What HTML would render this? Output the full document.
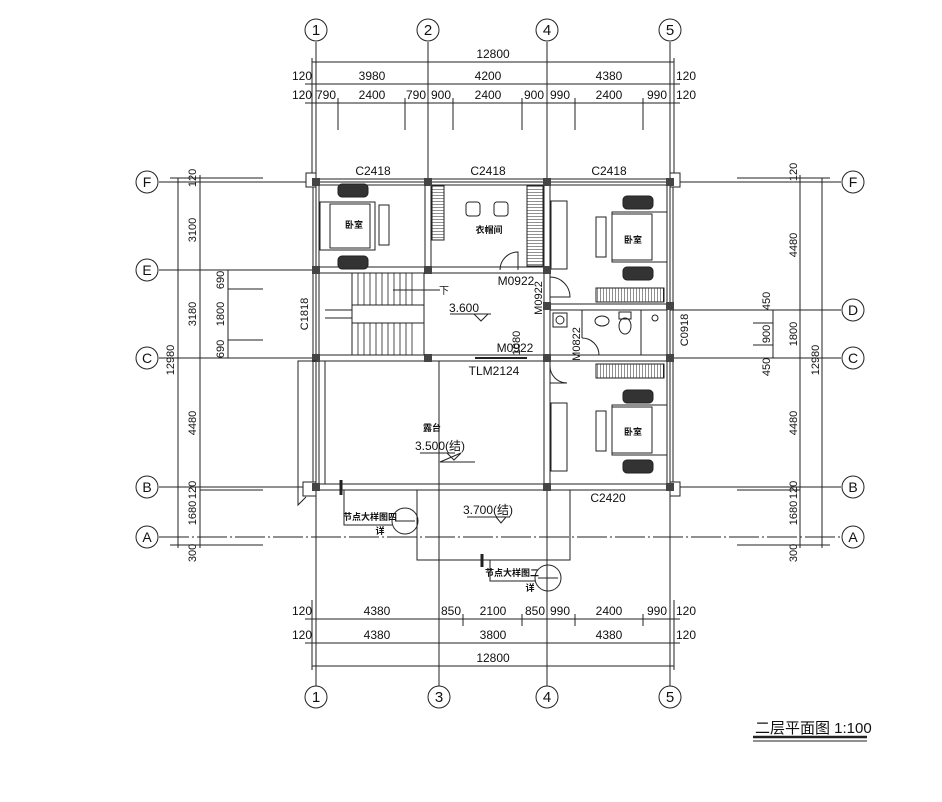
<!DOCTYPE html>
<html><head><meta charset="utf-8"><style>
html,body{margin:0;padding:0;background:#fff}
svg{display:block}
text{font-family:"Liberation Sans Narrow","Liberation Sans","Noto Sans CJK SC",sans-serif;fill:#111}
</style></head><body>
<svg width="942" height="802" viewBox="0 0 942 802" xmlns="http://www.w3.org/2000/svg">
<defs>
<pattern id="hv" width="3" height="3" patternUnits="userSpaceOnUse"><line x1="0" y1="0" x2="0" y2="3" stroke="#222" stroke-width="1"/></pattern>
<pattern id="hh" width="3" height="3" patternUnits="userSpaceOnUse"><line x1="0" y1="0" x2="3" y2="0" stroke="#222" stroke-width="1"/></pattern>
</defs>
<g stroke="#222" stroke-width="1" fill="none">
<line x1="316" y1="42" x2="316" y2="686"/>
<line x1="428" y1="42" x2="428" y2="182"/>
<line x1="547" y1="42" x2="547" y2="686"/>
<line x1="670" y1="42" x2="670" y2="686"/>
<line x1="439" y1="358" x2="439" y2="686"/>
<line x1="159" y1="182" x2="316" y2="182"/><line x1="670" y1="182" x2="841" y2="182"/>
<line x1="159" y1="270" x2="316" y2="270"/>
<line x1="670" y1="310" x2="841" y2="310"/>
<line x1="159" y1="358" x2="316" y2="358"/><line x1="670" y1="358" x2="841" y2="358"/>
<line x1="159" y1="487" x2="316" y2="487"/><line x1="670" y1="487" x2="841" y2="487"/>
<line x1="159" y1="537" x2="841" y2="537" stroke-dasharray="30 3 2 3"/>
<line x1="312" y1="62" x2="674" y2="62"/>
<line x1="305" y1="84" x2="680" y2="84"/>
<line x1="305" y1="103" x2="680" y2="103"/>
<line x1="312" y1="58" x2="312" y2="175"/><line x1="674" y1="58" x2="674" y2="175"/>
<g>
<line x1="338" y1="98" x2="338" y2="130"/><line x1="405" y1="98" x2="405" y2="130"/>
<line x1="453" y1="98" x2="453" y2="130"/><line x1="522" y1="98" x2="522" y2="130"/>
<line x1="575" y1="98" x2="575" y2="130"/><line x1="643" y1="98" x2="643" y2="130"/>
</g>
<line x1="305" y1="619" x2="680" y2="619"/>
<line x1="305" y1="643" x2="680" y2="643"/>
<line x1="312" y1="666" x2="674" y2="666"/>
<line x1="312" y1="600" x2="312" y2="670"/><line x1="674" y1="600" x2="674" y2="670"/>
<line x1="463" y1="614" x2="463" y2="626"/><line x1="522" y1="614" x2="522" y2="626"/>
<line x1="575" y1="614" x2="575" y2="626"/><line x1="643" y1="614" x2="643" y2="626"/>
<line x1="178" y1="178" x2="178" y2="548"/>
<line x1="200" y1="175" x2="200" y2="548"/>
<line x1="228" y1="270" x2="228" y2="358"/>
<line x1="170" y1="178" x2="263" y2="178"/><line x1="170" y1="545" x2="263" y2="545"/>
<line x1="200" y1="490" x2="263" y2="490"/>
<line x1="228" y1="289" x2="263" y2="289"/><line x1="228" y1="340" x2="263" y2="340"/>
<line x1="822" y1="178" x2="822" y2="548"/>
<line x1="800" y1="175" x2="800" y2="548"/>
<line x1="773" y1="310" x2="773" y2="358"/>
<line x1="737" y1="178" x2="830" y2="178"/><line x1="737" y1="545" x2="830" y2="545"/>
<line x1="737" y1="490" x2="800" y2="490"/>
<line x1="753" y1="323" x2="773" y2="323"/><line x1="753" y1="345" x2="773" y2="345"/>
<circle cx="316" cy="30" r="11"/><circle cx="428" cy="30" r="11"/><circle cx="547" cy="30" r="11"/><circle cx="670" cy="30" r="11"/>
<circle cx="316" cy="697" r="11"/><circle cx="439" cy="697" r="11"/><circle cx="547" cy="697" r="11"/><circle cx="670" cy="697" r="11"/>
<circle cx="147" cy="182" r="11"/><circle cx="147" cy="270" r="11"/><circle cx="147" cy="358" r="11"/><circle cx="147" cy="487" r="11"/><circle cx="147" cy="537" r="11"/>
<circle cx="853" cy="182" r="11"/><circle cx="853" cy="310" r="11"/><circle cx="853" cy="358" r="11"/><circle cx="853" cy="487" r="11"/><circle cx="853" cy="537" r="11"/>
</g>
<g stroke="#222" stroke-width="1" fill="#fff">
<rect x="313" y="179" width="360" height="311" fill="none"/>
<rect x="319" y="185" width="348" height="299" fill="none"/>
<line x1="316" y1="182" x2="670" y2="182"/>
<rect x="425" y="185" width="6" height="85"/>
<rect x="319" y="267" width="229" height="6"/>
<rect x="544" y="185" width="6" height="302"/>
<rect x="319" y="355" width="351" height="6"/>
<rect x="550" y="304" width="117" height="6"/>
<rect x="319" y="361" width="6" height="123"/>
<rect x="306" y="173" width="10" height="14"/><rect x="670" y="173" width="10" height="14"/>
<rect x="303" y="482" width="13" height="14"/><rect x="670" y="482" width="10" height="14"/>
</g>
<g fill="#444">
<rect x="312" y="178" width="8" height="8"/><rect x="424" y="178" width="8" height="8"/><rect x="543" y="178" width="8" height="8"/><rect x="666" y="178" width="8" height="8"/>
<rect x="312" y="266" width="8" height="8"/><rect x="424" y="266" width="8" height="8"/><rect x="543" y="266" width="8" height="8"/>
<rect x="543" y="302" width="8" height="8"/><rect x="666" y="302" width="8" height="8"/>
<rect x="312" y="354" width="8" height="8"/><rect x="424" y="354" width="8" height="8"/><rect x="543" y="354" width="8" height="8"/><rect x="666" y="354" width="8" height="8"/>
<rect x="543" y="483" width="8" height="8"/><rect x="666" y="483" width="8" height="8"/><rect x="312" y="483" width="8" height="8"/>
</g>
<g stroke="#222" fill="none" stroke-width="1">
<polyline points="316,361 298,361 298,505 306,497"/>
<polyline points="417,490 417,560 570,560 570,490"/>
<rect x="352" y="273" width="72" height="82"/>
<g stroke-width="0.8">
<line x1="358" y1="273" x2="358" y2="355"/><line x1="364" y1="273" x2="364" y2="355"/><line x1="370" y1="273" x2="370" y2="355"/>
<line x1="376" y1="273" x2="376" y2="355"/><line x1="382" y1="273" x2="382" y2="355"/><line x1="388" y1="273" x2="388" y2="355"/>
<line x1="394" y1="273" x2="394" y2="355"/><line x1="400" y1="273" x2="400" y2="355"/><line x1="406" y1="273" x2="406" y2="355"/><line x1="412" y1="273" x2="412" y2="355"/>
</g>
<rect x="352" y="305" width="72" height="18" fill="#fff"/>
<line x1="325" y1="310" x2="352" y2="310"/><line x1="325" y1="318" x2="352" y2="318"/>
<line x1="393" y1="290" x2="440" y2="290"/>
<path d="M500,270 A18 18 0 0 1 518,252 L518,270"/>
<path d="M550,277 A20 20 0 0 1 570,297 L550,297"/>
<path d="M582,338 A17 17 0 0 1 599,355 L582,355"/>
<path d="M550,366 A17 17 0 0 0 567,383 L550,383"/>
<line x1="475" y1="358" x2="527" y2="358" stroke-width="2"/>
<rect x="432" y="186" width="12" height="54" fill="url(#hh)"/>
<rect x="527" y="186" width="16" height="80" fill="url(#hh)"/>
<rect x="596" y="288" width="68" height="14" fill="url(#hv)"/>
<rect x="596" y="364" width="68" height="14" fill="url(#hv)"/>
<rect x="466" y="202" width="14" height="14" rx="3"/><rect x="494" y="202" width="14" height="14" rx="3"/>
<rect x="338" y="184" width="30" height="13" rx="4" fill="#333"/><rect x="338" y="256" width="30" height="13" rx="4" fill="#333"/>
<rect x="320" y="202" width="55" height="48"/><rect x="330" y="204" width="40" height="44"/>
<rect x="379" y="205" width="10" height="40"/>
<rect x="623" y="196" width="30" height="13" rx="4" fill="#333"/><rect x="623" y="267" width="30" height="13" rx="4" fill="#333"/>
<rect x="612" y="212" width="55" height="50"/><rect x="612" y="214" width="40" height="46"/>
<rect x="596" y="217" width="10" height="40"/>
<rect x="551" y="201" width="16" height="68"/>
<rect x="623" y="390" width="30" height="13" rx="4" fill="#333"/><rect x="623" y="460" width="30" height="13" rx="4" fill="#333"/>
<rect x="612" y="405" width="55" height="50"/><rect x="612" y="407" width="40" height="46"/>
<rect x="596" y="411" width="10" height="40"/>
<rect x="551" y="403" width="16" height="68"/>
<line x1="582" y1="310" x2="582" y2="338"/>
<line x1="641" y1="310" x2="641" y2="355"/>
<ellipse cx="602" cy="321" rx="7" ry="5"/><ellipse cx="625" cy="326" rx="6" ry="8"/><rect x="619" y="312" width="12" height="7"/>
<circle cx="655" cy="318" r="3"/>
<rect x="553" y="313" width="14" height="14"/><circle cx="560" cy="320" r="4"/>
<polyline points="450,314 491,314"/><polyline points="474,314 481,321 488,314"/>
<polyline points="420,453 455,453"/><polyline points="447,453 454,460 461,453 440,462 475,462"/>
<line x1="467" y1="517" x2="510" y2="517"/><polyline points="496,517 501,523 506,517"/>
<polyline points="344,490 344,525 392,525"/><line x1="341" y1="480" x2="341" y2="495" stroke-width="3"/>
<circle cx="405" cy="521" r="13"/><line x1="395" y1="521" x2="415" y2="521"/>
<polyline points="417,550 417,560 484,560"/>
<polyline points="490,560 490,581 535,581"/><line x1="482" y1="554" x2="482" y2="567" stroke-width="3"/>
<circle cx="548" cy="578" r="13"/><line x1="538" y1="578" x2="558" y2="578"/>
<line x1="753" y1="737" x2="867" y2="737" stroke-width="2.5"/>
<line x1="753" y1="741" x2="867" y2="741"/>
</g>
<g font-size="12" text-anchor="middle">
<text x="316" y="35" font-size="15">1</text><text x="428" y="35" font-size="15">2</text><text x="547" y="35" font-size="15">4</text><text x="670" y="35" font-size="15">5</text>
<text x="316" y="702" font-size="15">1</text><text x="439" y="702" font-size="15">3</text><text x="547" y="702" font-size="15">4</text><text x="670" y="702" font-size="15">5</text>
<text x="147" y="187" font-size="14">F</text><text x="147" y="275" font-size="14">E</text><text x="147" y="363" font-size="14">C</text><text x="147" y="492" font-size="14">B</text><text x="147" y="542" font-size="14">A</text>
<text x="853" y="187" font-size="14">F</text><text x="853" y="315" font-size="14">D</text><text x="853" y="363" font-size="14">C</text><text x="853" y="492" font-size="14">B</text><text x="853" y="542" font-size="14">A</text>
<text x="493" y="58">12800</text>
<text x="302" y="80">120</text><text x="372" y="80">3980</text><text x="488" y="80">4200</text><text x="609" y="80">4380</text><text x="686" y="80">120</text>
<text x="302" y="99">120</text><text x="326" y="99">790</text><text x="372" y="99">2400</text><text x="416" y="99">790</text><text x="441" y="99">900</text><text x="488" y="99">2400</text><text x="534" y="99">900</text><text x="560" y="99">990</text><text x="609" y="99">2400</text><text x="657" y="99">990</text><text x="686" y="99">120</text>
<text x="302" y="615">120</text><text x="377" y="615">4380</text><text x="451" y="615">850</text><text x="493" y="615">2100</text><text x="535" y="615">850</text><text x="560" y="615">990</text><text x="609" y="615">2400</text><text x="657" y="615">990</text><text x="686" y="615">120</text>
<text x="302" y="639">120</text><text x="377" y="639">4380</text><text x="493" y="639">3800</text><text x="609" y="639">4380</text><text x="686" y="639">120</text>
<text x="493" y="662">12800</text>
<text x="373" y="175">C2418</text><text x="488" y="175">C2418</text><text x="609" y="175">C2418</text>
<text x="516" y="285">M0922</text><text x="515" y="352">M0922</text><text x="494" y="375">TLM2124</text><text x="608" y="502">C2420</text>
<text x="464" y="312">3.600</text><text x="440" y="450">3.500(结)</text><text x="488" y="514">3.700(结)</text>
<text x="444" y="294" font-size="10">下</text>
</g>
<g font-size="11" text-anchor="middle">
<text transform="translate(196,230) rotate(-90)">3100</text>
<text transform="translate(196,314) rotate(-90)">3180</text>
<text transform="translate(196,423) rotate(-90)">4480</text>
<text transform="translate(196,513) rotate(-90)">1680</text>
<text transform="translate(196,490) rotate(-90)">120</text>
<text transform="translate(196,178) rotate(-90)">120</text>
<text transform="translate(196,553) rotate(-90)">300</text>
<text transform="translate(174,360) rotate(-90)">12980</text>
<text transform="translate(224,280) rotate(-90)">690</text>
<text transform="translate(224,314) rotate(-90)">1800</text>
<text transform="translate(224,349) rotate(-90)">690</text>
<text transform="translate(797,245) rotate(-90)">4480</text>
<text transform="translate(797,334) rotate(-90)">1800</text>
<text transform="translate(797,423) rotate(-90)">4480</text>
<text transform="translate(797,513) rotate(-90)">1680</text>
<text transform="translate(797,490) rotate(-90)">120</text>
<text transform="translate(797,172) rotate(-90)">120</text>
<text transform="translate(797,553) rotate(-90)">300</text>
<text transform="translate(819,360) rotate(-90)">12980</text>
<text transform="translate(770,301) rotate(-90)">450</text>
<text transform="translate(770,334) rotate(-90)">900</text>
<text transform="translate(770,367) rotate(-90)">450</text>
<text transform="translate(308,314) rotate(-90)">C1818</text>
<text transform="translate(542,298) rotate(-90)">M0922</text>
<text transform="translate(580,344) rotate(-90)">M0822</text>
<text transform="translate(520,343) rotate(-90)">1080</text>
<text transform="translate(688,330) rotate(-90)">C0918</text>
</g>
<g font-size="9" text-anchor="middle" font-weight="bold">
<text x="354" y="228">卧室</text><text x="489" y="233">衣帽间</text><text x="633" y="243">卧室</text><text x="633" y="435">卧室</text><text x="432" y="431">露台</text>
<text x="370" y="520">节点大样图四</text><text x="380" y="534">详</text>
<text x="512" y="576">节点大样图二</text><text x="530" y="591">详</text>
</g>
<text x="755" y="733" font-size="15">二层平面图 1:100</text>
</svg>
</body></html>
